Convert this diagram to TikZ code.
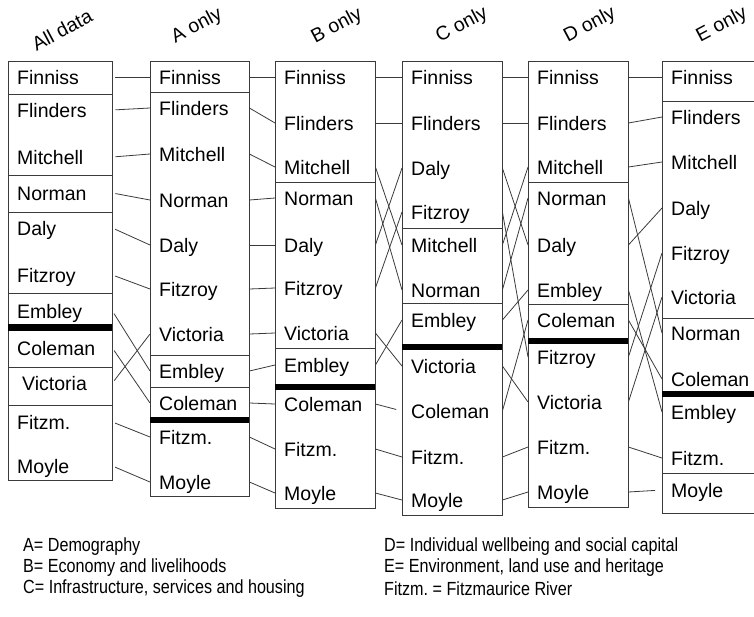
\documentclass[tikz,border=0pt]{standalone}
\usepackage{fontspec}
\setmainfont{Liberation Sans}
\newfontfamily\keyfont[FakeStretch=0.85]{Liberation Sans}
\usepackage{xcolor}
\usepackage{tikz}
\definecolor{rivgray}{HTML}{3a3a3a}

\begin{document}
\begin{tikzpicture}[x=1pt,y=-1pt,
  river/.style={anchor=west,inner xsep=9pt,inner ysep=0pt,text width=#1,align=left,
    text height=14pt,text depth=0pt,font=\fontsize{19.5}{22}\selectfont},
  colbox/.style={draw=rivgray,line width=1pt},
  cut/.style={fill=black},
  link/.style={draw=rivgray,line width=0.8pt},
  head/.style={rotate=28,font=\fontsize{19.5}{22}\selectfont},
  key/.style={anchor=west,inner sep=0pt,font=\keyfont\fontsize{19}{22}\selectfont}]
  \clip (0,0) rectangle (754,616);
  % column frames, dividers and cut-off bars
  \draw[colbox] (8,61) rectangle (112,480);
  \foreach \y in {94,175,212,293,367,405} \draw[colbox] (8,\y) -- (112,\y);
  \fill[cut] (8,324) rectangle (112,331);
  \draw[colbox] (150,61) rectangle (249,496);
  \foreach \y in {92,355,387} \draw[colbox] (150,\y) -- (249,\y);
  \fill[cut] (150,417) rectangle (249,423);
  \draw[colbox] (275,61) rectangle (375,508);
  \foreach \y in {182,348} \draw[colbox] (275,\y) -- (375,\y);
  \fill[cut] (275,384) rectangle (375,390);
  \draw[colbox] (402,61) rectangle (502,515);
  \foreach \y in {228,303} \draw[colbox] (402,\y) -- (502,\y);
  \fill[cut] (402,344) rectangle (502,350);
  \draw[colbox] (528,61) rectangle (628,507);
  \foreach \y in {182,304} \draw[colbox] (528,\y) -- (628,\y);
  \fill[cut] (528,338) rectangle (628,344);
  \draw[colbox] (662,61) rectangle (770,513);
  \foreach \y in {101,318,473} \draw[colbox] (662,\y) -- (770,\y);
  \fill[cut] (662,391) rectangle (770,397);
  % river names
  \foreach \k/\t/\y in {fin/Finniss/77,fli/Flinders/110,mit/Mitchell/157,nor/Norman/193,
    dal/Daly/228,fit/Fitzroy/275,emb/Embley/311,col/Coleman/348,vic/\hspace*{5pt}Victoria/383,
    fzm/Fitzm./422,moy/Moyle/466}
    \node[river=86pt] (all-\k) at (8,\y) {\t};
  \foreach \k/\t/\y in {fin/Finniss/77,fli/Flinders/108,mit/Mitchell/154,nor/Norman/200,
    dal/Daly/245,fit/Fitzroy/289,vic/Victoria/334,emb/Embley/371,col/Coleman/403,
    fzm/Fitzm./437,moy/Moyle/482}
    \node[river=81pt] (A-\k) at (150,\y) {\t};
  \foreach \k/\t/\y in {fin/Finniss/77,fli/Flinders/123,mit/Mitchell/167,nor/Norman/198,
    dal/Daly/245,fit/Fitzroy/288,vic/Victoria/333,emb/Embley/365,col/Coleman/404,
    fzm/Fitzm./449,moy/Moyle/493}
    \node[river=82pt] (B-\k) at (275,\y) {\t};
  \foreach \k/\t/\y in {fin/Finniss/77,fli/Flinders/123,dal/Daly/168,fit/Fitzroy/212,
    mit/Mitchell/245,nor/Norman/290,emb/Embley/320,vic/Victoria/366,col/Coleman/411,
    fzm/Fitzm./457,moy/Moyle/500}
    \node[river=82pt] (C-\k) at (402,\y) {\t};
  \foreach \k/\t/\y in {fin/Finniss/77,fli/Flinders/123,mit/Mitchell/167,nor/Norman/198,
    dal/Daly/245,emb/Embley/290,col/Coleman/320,fit/Fitzroy/357,vic/Victoria/402,
    fzm/Fitzm./447,moy/Moyle/492}
    \node[river=82pt] (D-\k) at (528,\y) {\t};
  \foreach \k/\t/\y in {fin/Finniss/77,fli/Flinders/117,mit/Mitchell/162,dal/Daly/208,
    fit/Fitzroy/253,vic/Victoria/297,nor/Norman/333,col/Coleman/379,emb/Embley/412,
    fzm/Fitzm./458,moy/Moyle/490}
    \node[river=82pt] (E-\k) at (662,\y) {\t};
  % links between columns
  \foreach \k in {fin,fli,mit,nor,dal,fit,emb,col,vic,fzm,moy}
    \draw[link,shorten <=3pt] (all-\k.east) -- (A-\k.west);
  \foreach \k in {fin,fli,mit,nor,dal,fit,emb,col,vic,fzm,moy}
    \draw[link] (A-\k.east) -- (B-\k.west);
  \foreach \k in {fin,fli,mit,nor,dal,fit,emb,vic,fzm,moy}
    \draw[link] (B-\k.east) -- (C-\k.west);
  \draw[link,shorten >=6pt] (B-col.east) -- (C-col.west);
  \foreach \k in {fin,fli,mit,nor,dal,fit,emb,col,vic,fzm,moy}
    \draw[link] (C-\k.east) -- (D-\k.west);
  \foreach \k in {fin,fli,mit,nor,dal,fit,emb,col,vic,fzm}
    \draw[link] (D-\k.east) -- (E-\k.west);
  \draw[link,shorten >=7pt] (D-moy.east) -- (E-moy.west);
  % headings
  \node[head] (h-all) at (62,30) {All data};
  \node[head] (h-A) at (197,26) {A only};
  \node[head] (h-B) at (337,26) {B only};
  \node[head] (h-C) at (462,25) {C only};
  \node[head] (h-D) at (590,25) {D only};
  \node[head] (h-E) at (722,25) {E only};
  % key
  \node[key] (k-A) at (23,547) {A= Demography};
  \node[key] (k-B) at (23,568) {B= Economy and livelihoods};
  \node[key] (k-C) at (23,589) {C= Infrastructure, services and housing};
  \node[key] (k-D) at (384,547) {D= Individual wellbeing and social capital};
  \node[key] (k-E) at (384,568) {E= Environment, land use and heritage};
  \node[key] (k-F) at (384,589) {Fitzm.\ = Fitzmaurice River};
\end{tikzpicture}
\end{document}
